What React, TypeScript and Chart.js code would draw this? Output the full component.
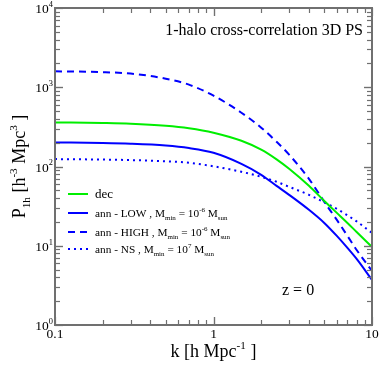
import React, { useEffect, useRef } from "react";
import { Chart, registerables } from "chart.js";

Chart.register(...registerables);

// ---- data ----
const kValues = [0.1, 0.2, 0.3, 0.5, 0.7, 1, 1.5, 2, 2.5, 3, 4, 5, 6, 7, 8, 10];
const decValues = [360, 354, 347, 327, 304, 267, 211, 163, 123, 93.5, 57, 36.8, 26.0, 19.4, 14.9, 9.65];
const lowValues = [201, 198, 194, 184, 171, 149, 108, 78.6, 57, 43.9, 28.4, 19.4, 13.3, 9.38, 6.81, 3.7];
const highValues = [1589, 1552, 1486, 1284, 1079, 783, 477, 309, 205, 141, 69.9, 35.8, 21.2, 13.3, 8.85, 4.8];
const nsValues = [124, 122.3, 120.5, 116.3, 111.4, 100.6, 85.7, 74.1, 64.1, 55.4, 43.9, 35.3, 29.2, 24.2, 20.3, 14.5];

const xMajorTicks = [0.1, 1, 10];
const xMajorLabels = ["0.1", "1", "10"];
const yMajorTicks = [1, 10, 100, 1000, 10000];
const yMajorExponents = ["0", "1", "2", "3", "4"];

const FONT = '"Liberation Serif", "Times New Roman", "DejaVu Serif", serif';

type Part = { t: string; k?: "n" | "b" | "p" };

function partFont(size: number, k?: string) {
  const s = k === "b" || k === "p" ? size * 0.62 : size;
  return `${s}px ${FONT}`;
}

function richWidth(ctx: CanvasRenderingContext2D, parts: Part[], size: number) {
  let w = 0;
  for (const p of parts) {
    ctx.font = partFont(size, p.k);
    w += ctx.measureText(p.t).width;
  }
  return w;
}

function drawRich(
  ctx: CanvasRenderingContext2D,
  parts: Part[],
  x: number,
  y: number,
  size: number,
  align: "left" | "center" | "right",
  color = "#000"
) {
  const w = richWidth(ctx, parts, size);
  let cx = align === "left" ? x : align === "center" ? x - w / 2 : x - w;
  ctx.save();
  ctx.fillStyle = color;
  ctx.textAlign = "left";
  ctx.textBaseline = "alphabetic";
  for (const p of parts) {
    ctx.font = partFont(size, p.k);
    let dy = 0;
    if (p.k === "b") dy = size * 0.28;
    if (p.k === "p") dy = -size * 0.45;
    ctx.fillText(p.t, cx, y + dy);
    cx += ctx.measureText(p.t).width;
  }
  ctx.restore();
}

const legendItems: { color: string; dash: number[]; parts: Part[]; size: number }[] = [
  { color: "#00ee00", dash: [], parts: [{ t: "dec" }], size: 13 },
  {
    color: "#0000ff",
    dash: [],
    parts: [
      { t: "ann - LOW , M" },
      { t: "min", k: "b" },
      { t: " = 10" },
      { t: "-6", k: "p" },
      { t: " M" },
      { t: "sun", k: "b" },
    ],
    size: 11.3,
  },
  {
    color: "#0000ff",
    dash: [7, 5],
    parts: [
      { t: "ann - HIGH , M" },
      { t: "min", k: "b" },
      { t: " = 10" },
      { t: "-6", k: "p" },
      { t: " M" },
      { t: "sun", k: "b" },
    ],
    size: 11.3,
  },
  {
    color: "#0000ff",
    dash: [2, 4],
    parts: [
      { t: "ann - NS , M" },
      { t: "min", k: "b" },
      { t: " = 10" },
      { t: "7", k: "p" },
      { t: " M" },
      { t: "sun", k: "b" },
    ],
    size: 11.3,
  },
];
const legendY = [194, 213, 232, 249];

const framePlugin = {
  id: "gracePlot",
  afterDraw(chart: any) {
    const ctx: CanvasRenderingContext2D = chart.ctx;
    const { left, right, top, bottom } = chart.chartArea;
    const xs = chart.scales.x;
    const ys = chart.scales.y;
    const axisColor = "#707070";

    ctx.save();
    ctx.strokeStyle = axisColor;
    ctx.lineWidth = 2;
    ctx.strokeRect(left, top, right - left, bottom - top);

    ctx.lineWidth = 1.2;
    const drawTick = (x1: number, y1: number, x2: number, y2: number) => {
      ctx.beginPath();
      ctx.moveTo(x1, y1);
      ctx.lineTo(x2, y2);
      ctx.stroke();
    };
    const MAJ = 8;
    const MIN = 5;
    for (let d = 0.1; d < 10; d *= 10) {
      for (let m = 1; m <= 10; m++) {
        const v = d * m;
        const x = Math.round(xs.getPixelForValue(v)) + 0.5;
        const len = m === 1 || m === 10 ? MAJ : MIN;
        drawTick(x, bottom, x, bottom - len);
        drawTick(x, top, x, top + len);
      }
    }
    for (let d = 1; d < 10000; d *= 10) {
      for (let m = 1; m <= 10; m++) {
        const v = d * m;
        const y = Math.round(ys.getPixelForValue(v)) + 0.5;
        const len = m === 1 || m === 10 ? MAJ : MIN;
        drawTick(left, y, left + len, y);
        drawTick(right, y, right - len, y);
      }
    }

    xMajorTicks.forEach((v, i) => {
      const x = xs.getPixelForValue(v);
      drawRich(ctx, [{ t: xMajorLabels[i] }], x, bottom + 13, 13.5, "center");
    });
    yMajorTicks.forEach((v, i) => {
      const y = ys.getPixelForValue(v);
      drawRich(ctx, [{ t: "10" }, { t: yMajorExponents[i], k: "p" }], left - 2, y + 5, 13.5, "right");
    });

    drawRich(
      ctx,
      [{ t: "k [h Mpc" }, { t: "-1", k: "p" }, { t: " ]" }],
      (left + right) / 2,
      357,
      18,
      "center"
    );
    ctx.save();
    ctx.translate(25, (top + bottom) / 2);
    ctx.rotate(-Math.PI / 2);
    drawRich(
      ctx,
      [{ t: "P" }, { t: "1h", k: "b" }, { t: " [h" }, { t: "-3", k: "p" }, { t: " Mpc" }, { t: "3", k: "p" }, { t: " ]" }],
      0,
      0,
      18,
      "center"
    );
    ctx.restore();

    drawRich(ctx, [{ t: "1-halo cross-correlation 3D PS" }], 363, 35, 16, "right");
    drawRich(ctx, [{ t: "z = 0" }], 282, 295, 16, "left");

    legendItems.forEach((it, i) => {
      const y = legendY[i];
      ctx.save();
      ctx.strokeStyle = it.color;
      ctx.lineWidth = 2;
      ctx.setLineDash(it.dash);
      ctx.beginPath();
      ctx.moveTo(68, y);
      ctx.lineTo(88, y);
      ctx.stroke();
      ctx.restore();
      drawRich(ctx, it.parts, 95, y + 4, it.size, "left");
    });
    ctx.restore();
  },
};

function toPoints(vals: number[]) {
  return kValues.map((k, i) => ({ x: k, y: vals[i] }));
}

export default function App() {
  const ref = useRef<HTMLCanvasElement | null>(null);
  useEffect(() => {
    if (!ref.current) return;
    const common = {
      pointRadius: 0,
      borderWidth: 2,
      fill: false,
      cubicInterpolationMode: "monotone" as const,
    };
    const chart = new Chart(ref.current, {
      type: "line",
      data: {
        datasets: [
          { ...common, label: "dec", data: toPoints(decValues), borderColor: "#00ee00" },
          { ...common, label: "ann - LOW", data: toPoints(lowValues), borderColor: "#0000ff" },
          { ...common, label: "ann - HIGH", data: toPoints(highValues), borderColor: "#0000ff", borderDash: [7, 5] },
          { ...common, label: "ann - NS", data: toPoints(nsValues), borderColor: "#0000ff", borderDash: [2, 4] },
        ],
      },
      options: {
        responsive: false,
        animation: false,
        maintainAspectRatio: false,
        layout: { padding: { left: 55, right: 7, top: 8, bottom: 44 } },
        plugins: { legend: { display: false }, tooltip: { enabled: false } },
        scales: {
          x: { type: "logarithmic", min: 0.1, max: 10, display: false },
          y: { type: "logarithmic", min: 1, max: 10000, display: false },
        },
      },
      plugins: [framePlugin],
    });
    return () => chart.destroy();
  }, []);
  return (
    <div style={{ position: "fixed", left: 0, top: 0, width: 379, height: 369, background: "#fff" }}>
      <canvas ref={ref} width={379} height={369} style={{ display: "block" }} />
    </div>
  );
}
